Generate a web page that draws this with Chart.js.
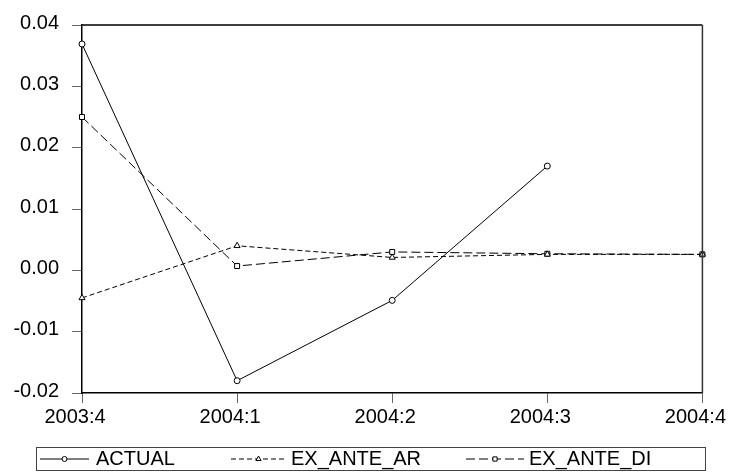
<!DOCTYPE html>
<html>
<head>
<meta charset="utf-8">
<script src="https://cdn.jsdelivr.net/npm/chart.js@4/dist/chart.umd.min.js"></script>
<style>
  html, body { margin: 0; padding: 0; background: #fff; }
  #wrap { width: 735px; height: 476px; }
</style>
</head>
<body>
<div id="wrap"><canvas id="forecastChart" width="735" height="476"></canvas></div>
<script>
// quarters on the x axis
const quarters = ['2003:4', '2004:1', '2004:2', '2004:3', '2004:4'];

// series
const actual    = [0.0369, -0.0180, -0.0049, 0.0170, null];
const exAnteAR  = [-0.0045, 0.0040, 0.0021, 0.0026, 0.0026];
const exAnteDI  = [0.0250, 0.0007, 0.0030, 0.0027, 0.0026];

// y axis range
const yMin  = -0.02;
const yMax  = 0.04;
const yStep = 0.01;

const FONT = 'Liberation Sans, Arial, sans-serif';

const series = [
  { label: 'ACTUAL',      data: actual,   dash: [],     marker: 'circle',   r: 3 },
  { label: 'EX_ANTE_AR',  data: exAnteAR, dash: [5, 3], marker: 'triangle', r: 3.5 },
  { label: 'EX_ANTE_DI',  data: exAnteDI, dash: [9, 4], marker: 'rect',     r: 3.5 },
];

// top and right edges of the plot frame
const framePlugin = {
  id: 'frame',
  afterDatasetsDraw(chart) {
    const { ctx, chartArea: a } = chart;
    ctx.save();
    ctx.strokeStyle = '#000';
    ctx.lineWidth = 1.5;
    ctx.beginPath();
    ctx.moveTo(a.left, a.top);
    ctx.lineTo(a.right, a.top);
    ctx.stroke();
    ctx.strokeStyle = '#333';
    ctx.beginPath();
    ctx.moveTo(a.right, a.top);
    ctx.lineTo(a.right, a.bottom);
    ctx.stroke();
    ctx.restore();
  }
};

// boxed legend under the chart, line sample with marker in the middle
const boxLegend = {
  id: 'boxLegend',
  afterDraw(chart) {
    const ctx = chart.ctx;
    const top = 447, bottom = 470, left = 36, right = 705;
    const cy = (top + bottom) / 2;
    const items = [
      { x0: 40,  x1: 89,  tx: 96 },
      { x0: 231, x1: 286, tx: 291 },
      { x0: 466, x1: 524, tx: 529 },
    ];
    ctx.save();
    ctx.strokeStyle = '#444';
    ctx.lineWidth = 1;
    ctx.strokeRect(left + 0.5, top + 0.5, right - left, bottom - top);

    items.forEach((it, i) => {
      const s = series[i];
      ctx.strokeStyle = '#000';
      ctx.lineWidth = 1;
      ctx.setLineDash(s.dash);
      ctx.beginPath();
      ctx.moveTo(it.x0, cy + 0.5);
      ctx.lineTo(it.x1, cy + 0.5);
      ctx.stroke();
      ctx.setLineDash([]);
      const mx = (it.x0 + it.x1) / 2;
      ctx.fillStyle = '#fff';
      Chart.helpers.drawPoint(ctx, { pointStyle: s.marker, radius: s.r - 0.5, borderWidth: 1 }, mx, cy + 0.5);
      ctx.fillStyle = '#000';
      ctx.font = '20px ' + FONT;
      ctx.textBaseline = 'middle';
      ctx.fillText(s.label, it.tx, cy + 1);
    });
    ctx.restore();
  }
};

new Chart(document.getElementById('forecastChart'), {
  type: 'line',
  data: {
    labels: quarters,
    datasets: series.map(s => ({
      label: s.label,
      data: s.data,
      borderColor: '#000',
      borderWidth: 1,
      borderDash: s.dash,
      pointStyle: s.marker,
      pointRadius: s.r,
      pointBorderColor: '#000',
      pointBackgroundColor: '#fff',
      pointBorderWidth: 1,
      tension: 0,
      spanGaps: false,
      fill: false,
    })),
  },
  options: {
    responsive: false,
    animation: false,
    layout: { padding: { left: 0, right: 30, top: 23, bottom: 0 } },
    plugins: {
      legend: { display: false },
      tooltip: { enabled: false },
    },
    scales: {
      x: {
        offset: false,
        afterFit: scale => { scale.height = 83; },
        grid: { display: true, drawOnChartArea: false, drawTicks: true, tickLength: 10, tickColor: '#666' },
        border: { display: true, color: '#000', width: 1.5 },
        ticks: {
          color: '#000',
          font: { family: FONT, size: 20 },
          padding: 2,
          labelOffset: -7,
          maxRotation: 0,
          autoSkip: false,
        },
      },
      y: {
        min: yMin,
        max: yMax,
        afterFit: scale => { scale.width = 82; },
        grid: { display: true, drawOnChartArea: false, drawTicks: true, tickLength: 10, tickColor: '#666' },
        border: { display: true, color: '#000', width: 1.5 },
        ticks: {
          stepSize: yStep,
          color: '#000',
          font: { family: FONT, size: 20 },
          padding: 13,
          labelOffset: -2,
          callback: v => v.toFixed(2),
        },
      },
    },
  },
  plugins: [framePlugin, boxLegend],
});
</script>
</body>
</html>
